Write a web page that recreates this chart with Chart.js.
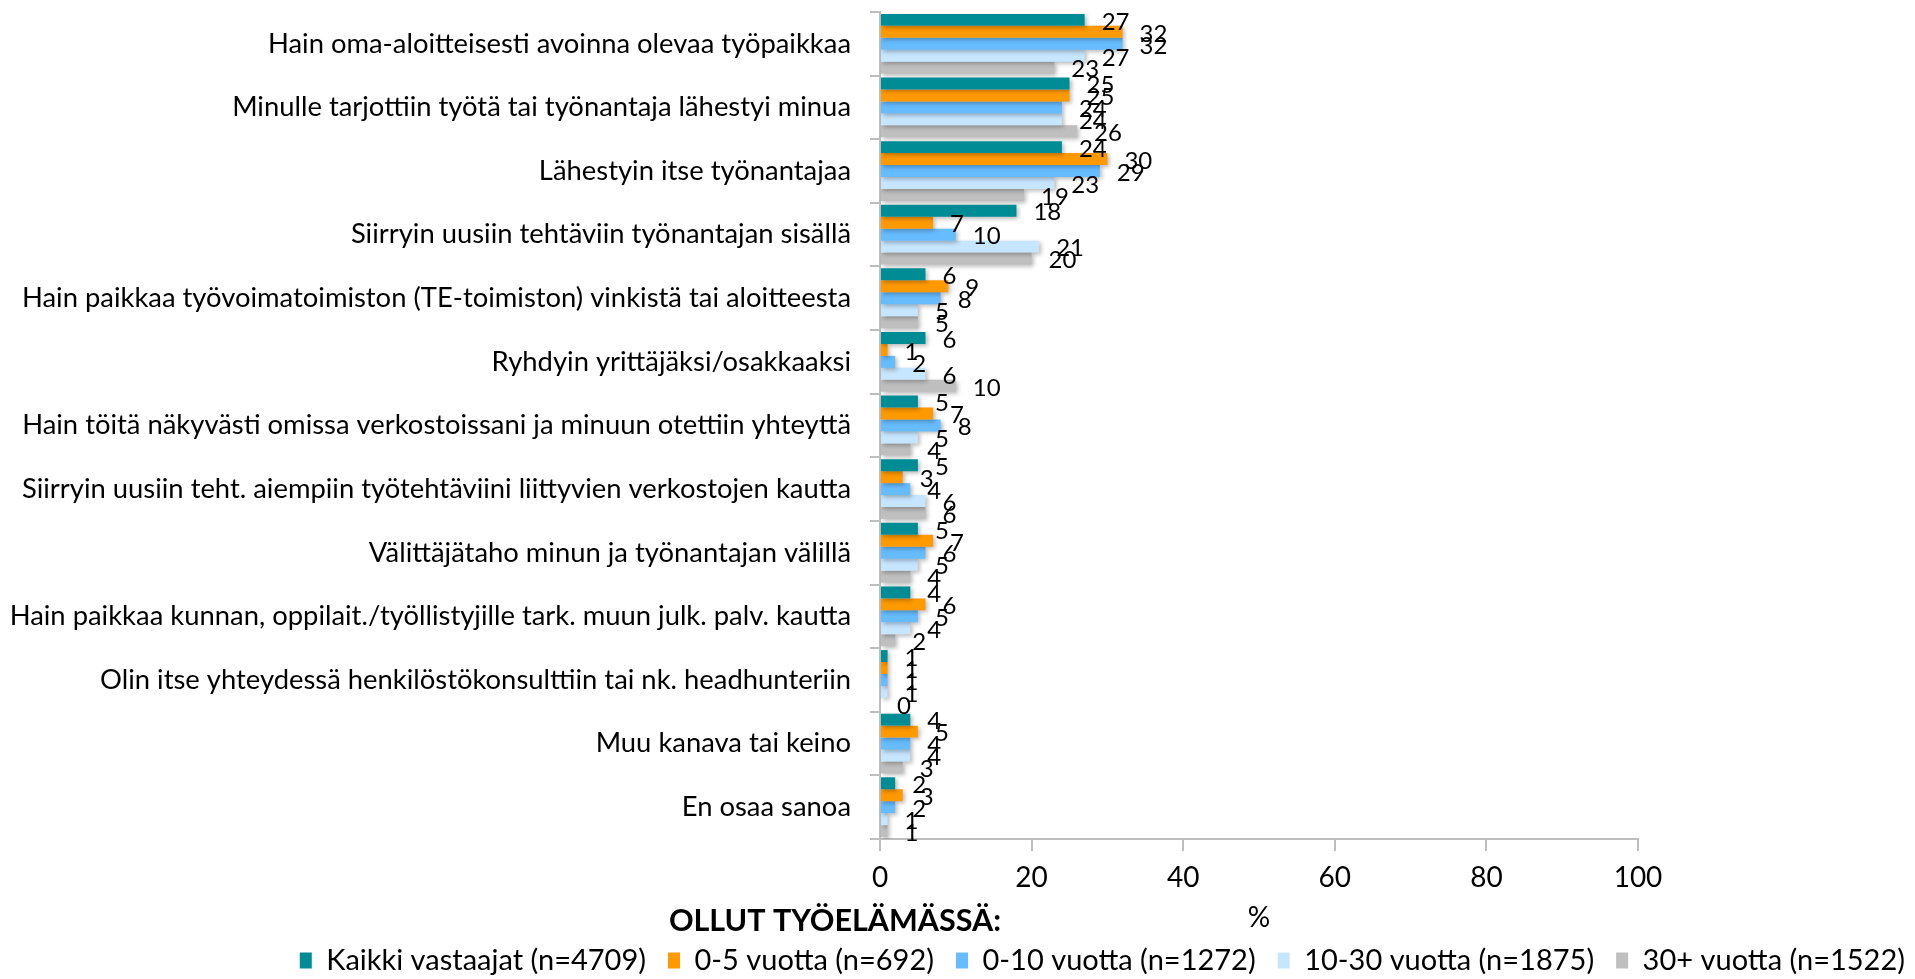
<!DOCTYPE html>
<html>
<head>
<meta charset="utf-8">
<script src="https://cdn.jsdelivr.net/npm/chart.js@4.4.1/dist/chart.umd.min.js"></script>
<style>
  html, body { margin: 0; padding: 0; background: #fff; }
  #wrap { width: 1915px; height: 979px; }
</style>
</head>
<body>
<div id="wrap"><canvas id="chart"></canvas></div>
<script>
const categories = [
  "Hain oma-aloitteisesti avoinna olevaa työpaikkaa",
  "Minulle tarjottiin työtä tai työnantaja lähestyi minua",
  "Lähestyin itse työnantajaa",
  "Siirryin uusiin tehtäviin työnantajan sisällä",
  "Hain paikkaa työvoimatoimiston (TE-toimiston) vinkistä tai aloitteesta",
  "Ryhdyin yrittäjäksi/osakkaaksi",
  "Hain töitä näkyvästi omissa verkostoissani ja minuun otettiin yhteyttä",
  "Siirryin uusiin teht. aiempiin työtehtäviini liittyvien verkostojen kautta",
  "Välittäjätaho minun ja työnantajan välillä",
  "Hain paikkaa kunnan, oppilait./työllistyjille tark. muun julk. palv. kautta",
  "Olin itse yhteydessä henkilöstökonsulttiin tai nk. headhunteriin",
  "Muu kanava tai keino",
  "En osaa sanoa"
];

const seriesNames = [
  "Kaikki vastaajat (n=4709)",
  "0-5 vuotta (n=692)",
  "0-10 vuotta (n=1272)",
  "10-30 vuotta (n=1875)",
  "30+ vuotta (n=1522)"
];

const kaikki  = [27, 25, 24, 18, 6, 6, 5, 5, 5, 4, 1, 4, 2];
const v0_5    = [32, 25, 30, 7, 9, 1, 7, 3, 7, 6, 1, 5, 3];
const v0_10   = [32, 24, 29, 10, 8, 2, 8, 4, 6, 5, 1, 4, 2];
const v10_30  = [27, 24, 23, 21, 5, 6, 5, 6, 5, 4, 1, 4, 1];
const v30plus = [23, 26, 19, 20, 5, 10, 4, 6, 4, 2, 0, 3, 1];

const xTicks = [0, 20, 40, 60, 80, 100];
const xTitle = "%";
const legendHeading = "OLLUT TYÖELÄMÄSSÄ:";

const colors = ["#008C95", "#FF9900", "#66BCFF", "#C6E6FF", "#BFBFBF"];
const FONT = 'Lato, "Liberation Sans", Arial, sans-serif';
const axisGray = "#BEBEBE";

const barShadow = {
  id: "barShadow",
  beforeDatasetsDraw(chart) {
    const ctx = chart.ctx;
    ctx.save();
    ctx.shadowColor = "rgba(0,0,0,0.28)";
    ctx.shadowBlur = 4;
    ctx.shadowOffsetX = 2;
    ctx.shadowOffsetY = 2;
  },
  afterDatasetsDraw(chart) {
    chart.ctx.restore();
  }
};

const valueLabels = {
  id: "valueLabels",
  afterDatasetsDraw(chart) {
    const ctx = chart.ctx;
    ctx.save();
    ctx.font = "24px " + FONT;
    ctx.fillStyle = "#000";
    ctx.textAlign = "left";
    ctx.textBaseline = "middle";
    chart.data.datasets.forEach((ds, i) => {
      chart.getDatasetMeta(i).data.forEach((bar, j) => {
        ctx.fillText(String(ds.data[j]), bar.x + 17, bar.y + 2);
      });
    });
    ctx.restore();
  }
};

const legendTitle = {
  id: "legendTitle",
  afterDraw(chart) {
    const ctx = chart.ctx;
    ctx.save();
    ctx.font = "bold 30.5px " + FONT;
    ctx.fillStyle = "#000";
    ctx.textAlign = "center";
    ctx.textBaseline = "middle";
    ctx.fillText(legendHeading, chart.width * 0.436, chart.legend.top - 3);
    ctx.restore();
  }
};

const seriesData = [kaikki, v0_5, v0_10, v10_30, v30plus];

new Chart(document.getElementById("chart"), {
  type: "bar",
  data: {
    labels: categories,
    datasets: seriesData.map((d, i) => ({
      label: seriesNames[i],
      data: d,
      backgroundColor: colors[i],
      borderWidth: 0,
      categoryPercentage: 0.94,
      barPercentage: 1.0
    }))
  },
  options: {
    indexAxis: "y",
    responsive: true,
    maintainAspectRatio: false,
    devicePixelRatio: 1,
    animation: false,
    layout: { padding: { top: 12, right: -12, bottom: -6, left: 0 } },
    scales: {
      x: {
        min: 0,
        max: 100,
        afterBuildTicks: s => { s.ticks = xTicks.map(v => ({ value: v })); },
        afterFit: s => { s.height = 85; },
        grid: { drawOnChartArea: false, drawTicks: true, tickLength: 12, color: axisGray, lineWidth: 2 },
        border: { color: axisGray, width: 2 },
        ticks: { color: "#000", padding: 10, font: { family: FONT, size: 28 } },
        title: { display: true, text: xTitle, color: "#000", padding: { top: 0, bottom: -11 }, font: { family: FONT, size: 28 } }
      },
      y: {
        afterFit: s => { s.width = 880; s.paddingTop = 0; s.paddingBottom = 0; },
        grid: { drawOnChartArea: false, drawTicks: true, tickLength: 10, color: axisGray, lineWidth: 2 },
        border: { color: axisGray, width: 2 },
        ticks: { color: "#000", padding: 19, font: { family: FONT, size: 27.4 } }
      },
      spacer: {
        type: "linear",
        position: "right",
        display: true,
        afterFit: s => { s.width = 289; s.paddingTop = 0; s.paddingBottom = 0; },
        grid: { display: false },
        border: { display: false },
        ticks: { display: false }
      }
    },
    plugins: {
      legend: {
        position: "bottom",
        align: "end",
        labels: {
          color: "#000",
          boxWidth: 12,
          boxHeight: 16,
          padding: 22,
          font: { family: FONT, size: 29 }
        }
      },
      tooltip: { enabled: false }
    }
  },
  plugins: [barShadow, valueLabels, legendTitle]
});
</script>
</body>
</html>
